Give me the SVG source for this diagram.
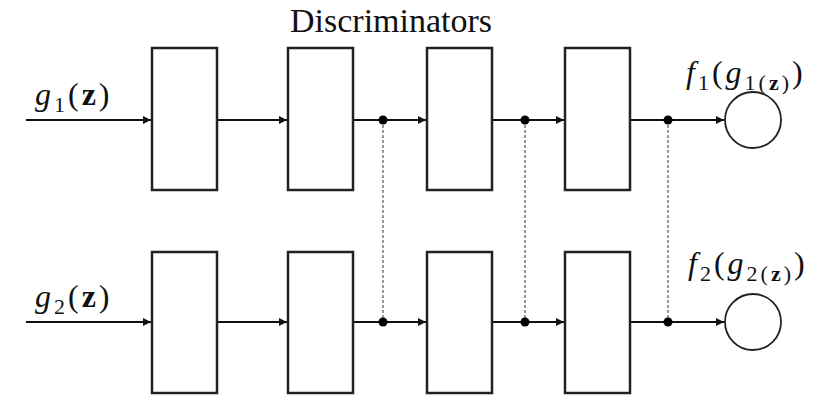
<svg xmlns="http://www.w3.org/2000/svg" width="836" height="397" viewBox="0 0 836 397">
  <style>
    .box { fill: #ffffff; stroke: #222222; stroke-width: 2.5; }
    .out { fill: #ffffff; stroke: #222222; stroke-width: 1.8; }
    .wire { fill: none; stroke: #111111; stroke-width: 1.8; }
    .link { fill: none; stroke: #777777; stroke-width: 1.5; stroke-dasharray: 3 2; }
    .dot { fill: #000000; }
    .title { font-family: "Liberation Serif", "Times New Roman", serif; font-size: 34px; fill: #111111; }
    .math { font-family: "Liberation Serif", "Times New Roman", serif; font-size: 32px; letter-spacing: 3px; fill: #111111; }
    .sub { font-size: 22px; }
    .it { font-style: italic; }
    .bf { font-weight: bold; }
  </style>
  <defs>
    <marker id="arrow" viewBox="0 0 10 10" refX="10" refY="5" markerWidth="9" markerHeight="8" markerUnits="userSpaceOnUse" orient="auto">
      <path d="M0,0 L10,5 L0,10 z" fill="#111111"/>
    </marker>
  </defs>
  <rect width="836" height="397" fill="#ffffff"/>

  <text class="title" x="290" y="32">Discriminators</text>

  <!-- connectors -->
  <g id="connectors">
    <!-- upper path -->
    <line class="wire" x1="26" y1="120" x2="151" y2="120" marker-end="url(#arrow)"/>
    <line class="wire" x1="217" y1="120" x2="287" y2="120" marker-end="url(#arrow)"/>
    <line class="wire" x1="353" y1="120" x2="426" y2="120" marker-end="url(#arrow)"/>
    <line class="wire" x1="492" y1="120" x2="564" y2="120" marker-end="url(#arrow)"/>
    <line class="wire" x1="630" y1="120" x2="724" y2="120" marker-end="url(#arrow)"/>
    <!-- lower path -->
    <line class="wire" x1="26" y1="322" x2="151" y2="322" marker-end="url(#arrow)"/>
    <line class="wire" x1="217" y1="322" x2="287" y2="322" marker-end="url(#arrow)"/>
    <line class="wire" x1="353" y1="322" x2="426" y2="322" marker-end="url(#arrow)"/>
    <line class="wire" x1="492" y1="322" x2="564" y2="322" marker-end="url(#arrow)"/>
    <line class="wire" x1="630" y1="322" x2="724" y2="322" marker-end="url(#arrow)"/>
    <!-- shared-weight links -->
    <line class="link" x1="383" y1="120" x2="383" y2="322"/>
    <line class="link" x1="525" y1="120" x2="525" y2="322"/>
    <line class="link" x1="668" y1="120" x2="668" y2="322"/>
    <circle class="dot" cx="383" cy="120" r="4.5"/>
    <circle class="dot" cx="525" cy="120" r="4.5"/>
    <circle class="dot" cx="668" cy="120" r="4.5"/>
    <circle class="dot" cx="383" cy="322" r="4.5"/>
    <circle class="dot" cx="525" cy="322" r="4.5"/>
    <circle class="dot" cx="668" cy="322" r="4.5"/>
  </g>

  <!-- upper discriminator -->
  <g id="d1-layer1"><rect class="box" x="152" y="48" width="65" height="142"/></g>
  <g id="d1-layer2"><rect class="box" x="288" y="48" width="65" height="142"/></g>
  <g id="d1-layer3"><rect class="box" x="427" y="48" width="65" height="142"/></g>
  <g id="d1-layer4"><rect class="box" x="565" y="48" width="65" height="142"/></g>
  <g id="d1-output"><circle class="out" cx="753" cy="120" r="28"/></g>

  <!-- lower discriminator -->
  <g id="d2-layer1"><rect class="box" x="152" y="252" width="65" height="141"/></g>
  <g id="d2-layer2"><rect class="box" x="288" y="252" width="65" height="141"/></g>
  <g id="d2-layer3"><rect class="box" x="427" y="252" width="65" height="141"/></g>
  <g id="d2-layer4"><rect class="box" x="565" y="252" width="65" height="141"/></g>
  <g id="d2-output"><circle class="out" cx="753" cy="322" r="28"/></g>

  <!-- labels -->
  <g id="label-g1">
    <text class="math" x="35" y="105"><tspan class="it">g</tspan><tspan class="sub" dy="7">1</tspan><tspan dy="-7">(</tspan><tspan class="bf">z</tspan><tspan>)</tspan></text>
  </g>
  <g id="label-g2">
    <text class="math" x="35" y="307"><tspan class="it">g</tspan><tspan class="sub" dy="7">2</tspan><tspan dy="-7">(</tspan><tspan class="bf">z</tspan><tspan>)</tspan></text>
  </g>
  <g id="label-f1">
    <text class="math" x="686" y="83"><tspan class="it">f</tspan><tspan class="sub" dy="7">1</tspan><tspan dy="-7">(</tspan><tspan class="it">g</tspan><tspan class="sub" dy="7">1(</tspan><tspan class="sub bf">z</tspan><tspan class="sub">)</tspan><tspan dy="-7">)</tspan></text>
  </g>
  <g id="label-f2">
    <text class="math" x="688" y="274"><tspan class="it">f</tspan><tspan class="sub" dy="7">2</tspan><tspan dy="-7">(</tspan><tspan class="it">g</tspan><tspan class="sub" dy="7">2(</tspan><tspan class="sub bf">z</tspan><tspan class="sub">)</tspan><tspan dy="-7">)</tspan></text>
  </g>
</svg>
